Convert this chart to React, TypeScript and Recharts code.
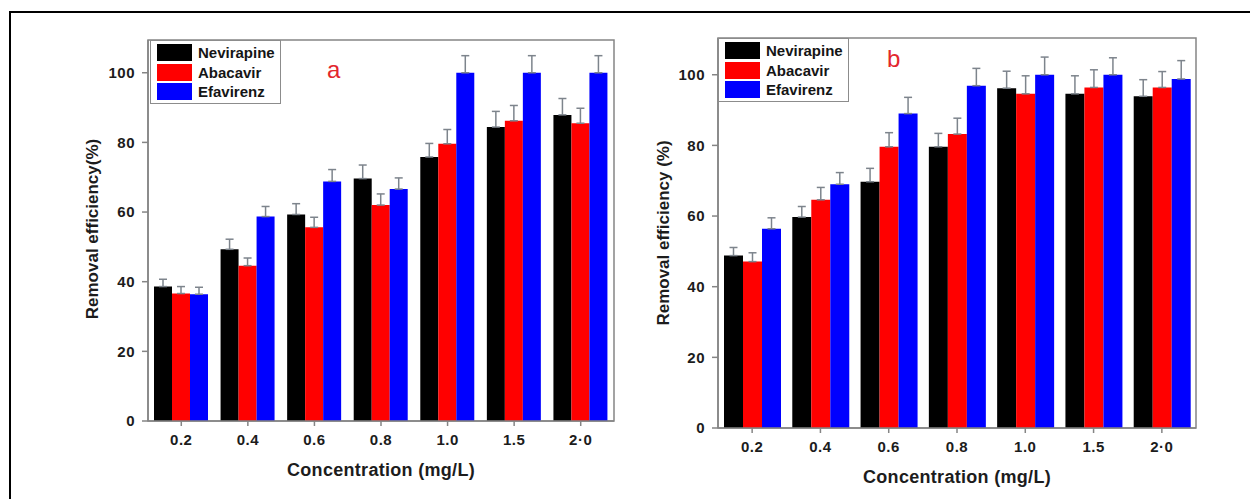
import React from 'react';
import { BarChart, Bar, XAxis, YAxis, ErrorBar, Legend, ReferenceArea } from 'recharts';

// Concentrations tested (mg/L)
const concentrations = ['0.2', '0.4', '0.6', '0.8', '1.0', '1.5', '2·0'];
const yTicks = [0, 20, 40, 60, 80, 100];
const seriesNames = ['Nevirapine', 'Abacavir', 'Efavirenz'];

// Panel a: removal efficiency (%)
const nevirapineA = [38.6, 49.3, 59.3, 69.6, 75.8, 84.4, 87.9];
const abacavirA = [36.6, 44.6, 55.6, 62.0, 79.6, 86.2, 85.5];
const efavirenzA = [36.4, 58.7, 68.8, 66.6, 100, 100, 100];
const nevirapineErrA = [2.1, 2.9, 3.1, 3.9, 3.9, 4.5, 4.7];
const abacavirErrA = [2.0, 2.2, 2.9, 3.2, 4.1, 4.4, 4.3];
const efavirenzErrA = [2.0, 2.9, 3.4, 3.2, 4.9, 4.9, 4.9];

// Panel b: removal efficiency (%)
const nevirapineB = [48.8, 59.7, 69.7, 79.6, 96.2, 94.6, 93.9];
const abacavirB = [47.1, 64.6, 79.6, 83.2, 94.6, 96.4, 96.4];
const efavirenzB = [56.4, 69.0, 89.0, 96.9, 100, 100, 98.8];
const nevirapineErrB = [2.3, 3.0, 3.8, 3.8, 4.8, 5.1, 4.7];
const abacavirErrB = [2.5, 3.5, 4.0, 4.5, 5.1, 5.0, 4.5];
const efavirenzErrB = [3.1, 3.3, 4.6, 4.9, 5.0, 4.8, 5.2];

const FONT = '"Liberation Sans", Arial, Helvetica, sans-serif';
const FRAME = '#858585';
const ERR = '#7d848c';

const buildRows = (
  nev: number[], aba: number[], efa: number[],
  nevE: number[], abaE: number[], efaE: number[]
) =>
  concentrations.map((conc, i) => ({
    conc,
    nev: nev[i],
    aba: aba[i],
    efa: efa[i],
    nevErr: [0, nevE[i]],
    abaErr: [0, abaE[i]],
    efaErr: [0, efaE[i]],
  }));

const dataA = buildRows(nevirapineA, abacavirA, efavirenzA, nevirapineErrA, abacavirErrA, efavirenzErrA);
const dataB = buildRows(nevirapineB, abacavirB, efavirenzB, nevirapineErrB, abacavirErrB, efavirenzErrB);

const renderLegend = (props: any) => {
  const items = [...(props.payload || [])].sort(
    (p: any, q: any) => seriesNames.indexOf(p.value) - seriesNames.indexOf(q.value)
  );
  return (
    <div
      style={{
        border: '1px solid #8c8c8c',
        background: '#fff',
        padding: '2px 0 1px 6px',
        width: 123,
        fontFamily: FONT,
      }}
    >
      {items.map((entry: any) => (
        <div key={entry.value} style={{ display: 'flex', alignItems: 'center', height: 19.5 }}>
          <span style={{ display: 'inline-block', width: 35, height: 17, background: entry.color, marginRight: 6 }} />
          <span style={{ fontSize: 15, fontWeight: 700, color: '#151515', whiteSpace: 'nowrap' }}>{entry.value}</span>
        </div>
      ))}
    </div>
  );
};

const yTitle = (text: string, cx: number, cy: number) => () => (
  <text
    x={cx}
    y={cy}
    transform={`rotate(-90 ${cx} ${cy})`}
    textAnchor="middle"
    dominantBaseline="central"
    fontFamily={FONT}
    fontWeight={700}
    fontSize={17}
    fill="#1c1c1c"
  >
    {text}
  </text>
);

type PanelProps = {
  data: any[];
  yMax: number;
  yAxisWidth: number;
  margin: { top: number; right: number; bottom: number; left: number };
  yLabel: string;
  yLabelX: number;
  yLabelY: number;
  legendLeft: number;
  legendTop: number;
};

const Panel = ({ data, yMax, yAxisWidth, margin, yLabel, yLabelX, yLabelY, legendLeft, legendTop }: PanelProps) => {
  const tickStyle = { fontFamily: FONT, fontWeight: 700, fontSize: 15, fill: '#1c1c1c', letterSpacing: 0.5 };
  return (
    <BarChart width={625} height={499} data={data} margin={margin} barCategoryGap={6} barGap={0}>
      <XAxis
        dataKey="conc"
        height={30}
        tickSize={5}
        tickMargin={8}
        tick={tickStyle}
        axisLine={{ stroke: FRAME, strokeWidth: 1.5 }}
        tickLine={{ stroke: FRAME, strokeWidth: 1.5 }}
        label={{
          value: 'Concentration (mg/L)',
          position: 'bottom',
          offset: 12,
          style: { fontFamily: FONT, fontWeight: 700, fontSize: 18, fill: '#1c1c1c', letterSpacing: 0.3 },
        }}
      />
      <YAxis
        domain={[0, yMax]}
        ticks={yTicks}
        width={yAxisWidth}
        tickSize={6}
        tickMargin={7}
        tick={tickStyle}
        axisLine={{ stroke: FRAME, strokeWidth: 1.5 }}
        tickLine={{ stroke: FRAME, strokeWidth: 1.5 }}
        label={{ content: yTitle(yLabel, yLabelX, yLabelY) }}
      />
      <ReferenceArea
        y1={0}
        y2={yMax}
        fill="none"
        fillOpacity={0}
        stroke={FRAME}
        strokeWidth={1.5}
        ifOverflow="visible"
      />
      <Legend
        layout="vertical"
        align="center"
        verticalAlign="middle"
        content={renderLegend}
        wrapperStyle={{ left: legendLeft, top: legendTop, width: 'auto', height: 'auto' }}
      />
      <Bar dataKey="nev" name="Nevirapine" fill="#000000" isAnimationActive={false}>
        <ErrorBar dataKey="nevErr" width={4} stroke={ERR} strokeWidth={1.5} direction="y" />
      </Bar>
      <Bar dataKey="aba" name="Abacavir" fill="#ff0000" isAnimationActive={false}>
        <ErrorBar dataKey="abaErr" width={4} stroke={ERR} strokeWidth={1.5} direction="y" />
      </Bar>
      <Bar dataKey="efa" name="Efavirenz" fill="#0000ff" isAnimationActive={false}>
        <ErrorBar dataKey="efaErr" width={4} stroke={ERR} strokeWidth={1.5} direction="y" />
      </Bar>
    </BarChart>
  );
};

const panelTag: React.CSSProperties = {
  position: 'absolute',
  fontFamily: FONT,
  fontSize: 24,
  lineHeight: '24px',
  color: '#e3262c',
};

export default function App() {
  return (
    <div style={{ position: 'absolute', left: 0, top: 0, width: 1250, height: 499, overflow: 'hidden', background: '#fff' }}>
      <div
        style={{
          position: 'absolute',
          left: 9,
          top: 11,
          width: 1300,
          height: 600,
          borderLeft: '2px solid #000',
          borderTop: '2px solid #000',
        }}
      />
      <div style={{ position: 'absolute', left: 0, top: 0 }}>
        <Panel
          data={dataA}
          yMax={109.4}
          yAxisWidth={148}
          margin={{ top: 40, right: 11, bottom: 48, left: 0 }}
          yLabel="Removal efficiency(%)"
          yLabelX={92}
          yLabelY={229}
          legendLeft={150}
          legendTop={40}
        />
      </div>
      <div style={{ position: 'absolute', left: 625, top: 0 }}>
        <Panel
          data={dataB}
          yMax={110.4}
          yAxisWidth={93}
          margin={{ top: 38, right: 54, bottom: 41, left: 0 }}
          yLabel="Removal efficiency (%)"
          yLabelX={38}
          yLabelY={233}
          legendLeft={93}
          legendTop={38}
        />
      </div>
      <div style={{ ...panelTag, left: 327, top: 58 }}>a</div>
      <div style={{ ...panelTag, left: 887, top: 47 }}>b</div>
    </div>
  );
}
